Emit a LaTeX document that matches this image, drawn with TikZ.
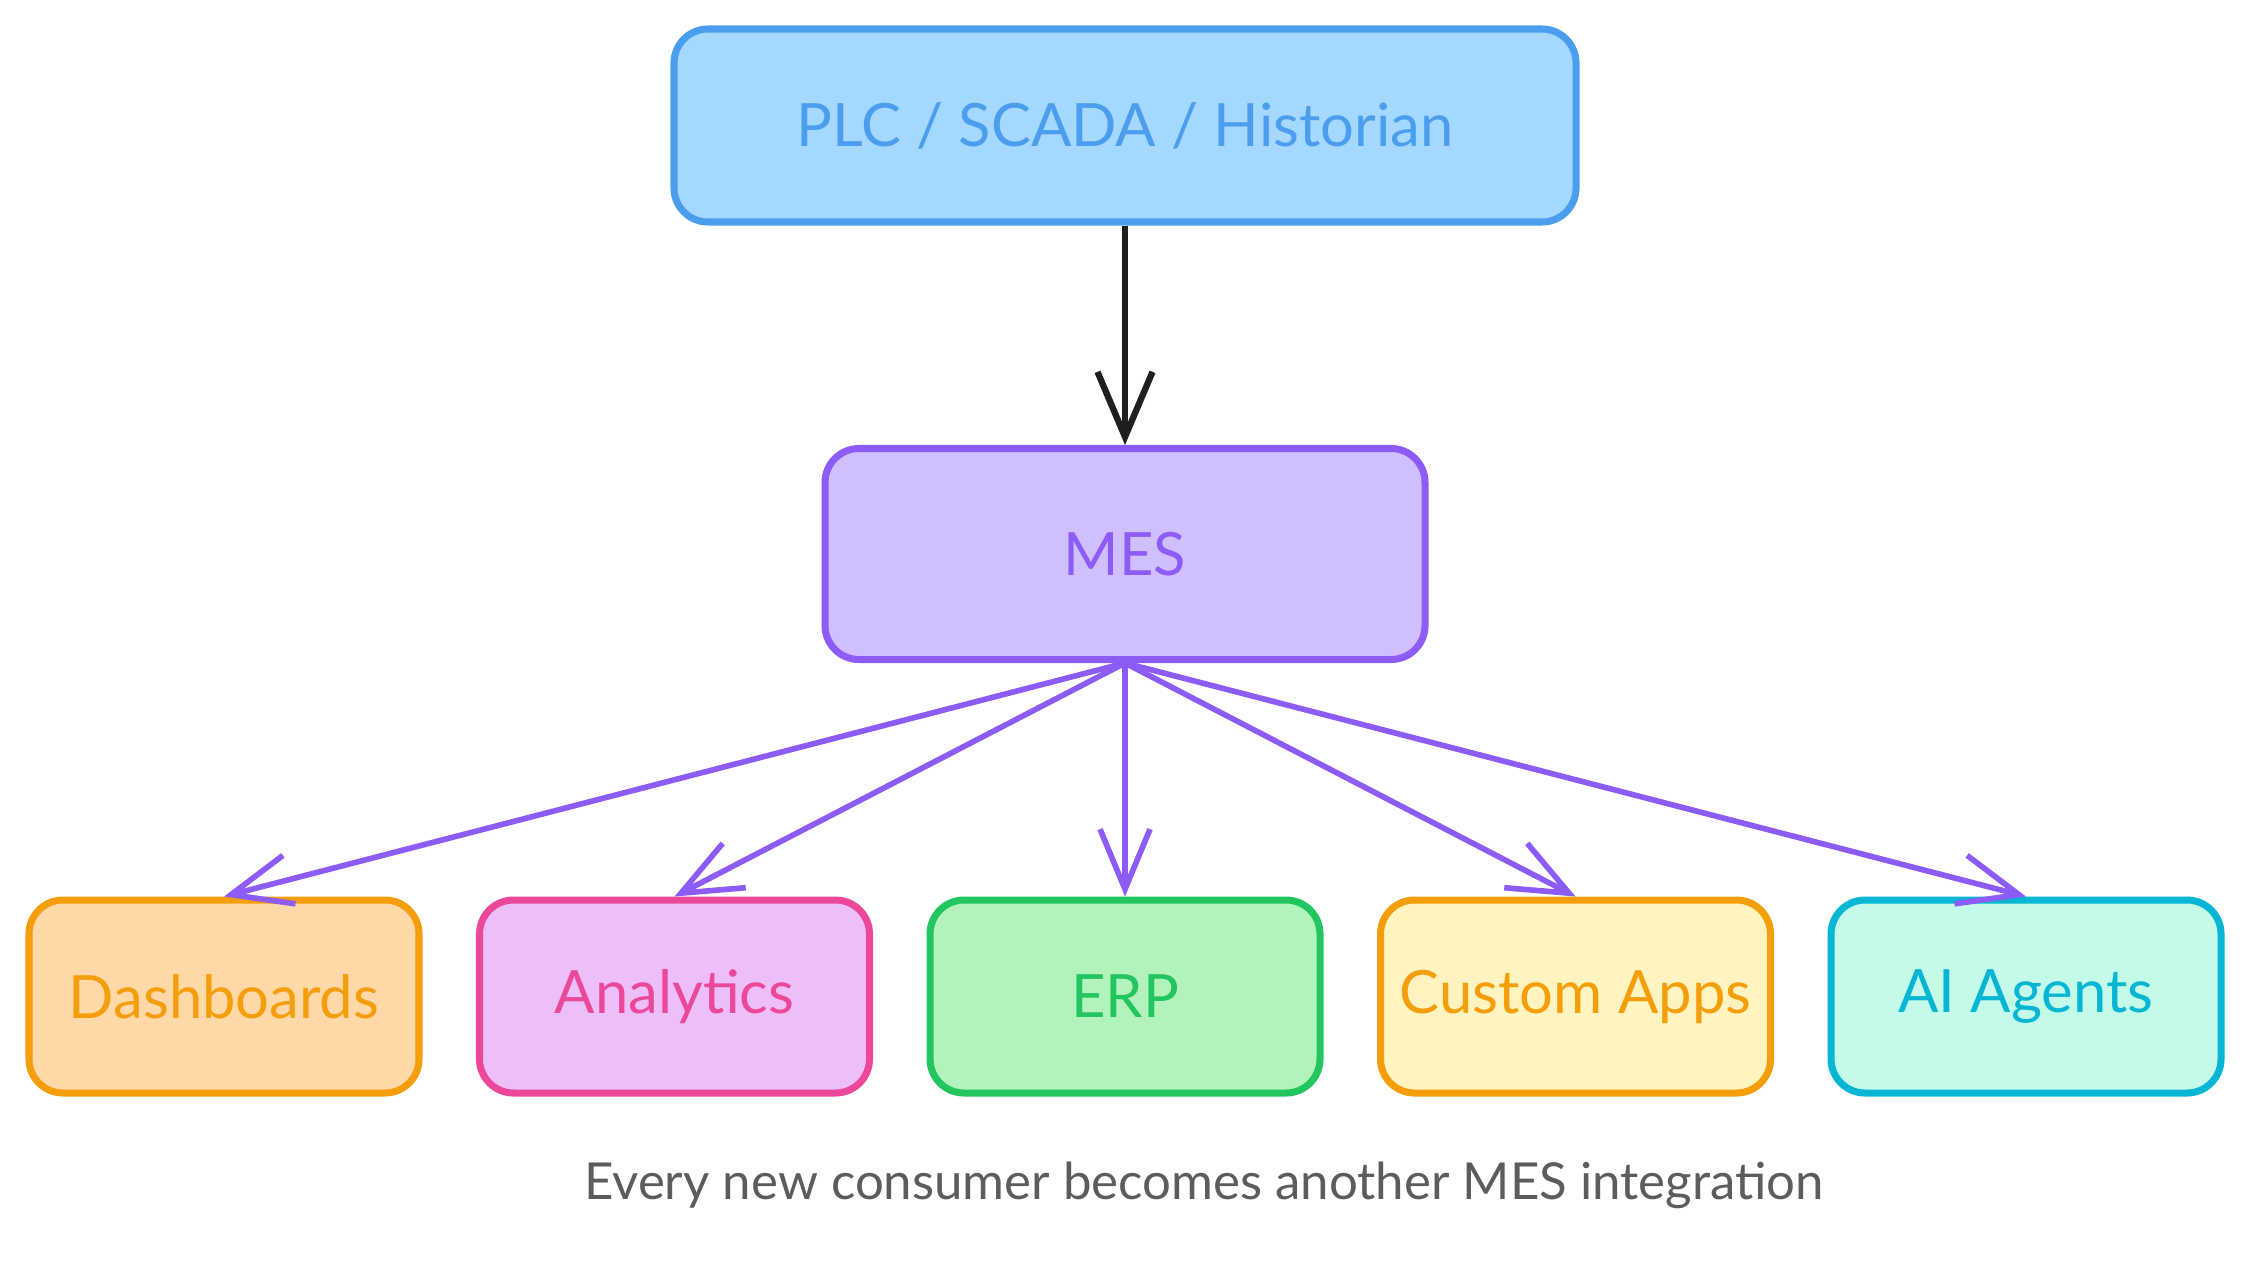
\documentclass[tikz,border=0pt]{standalone}
\usepackage{fontspec}
\setmainfont{Lato}
\usepackage{tikz}
\usetikzlibrary{positioning,arrows.meta}
\definecolor{srcline}{HTML}{4A9EED}
\definecolor{srcfill}{HTML}{A5D8FF}
\definecolor{mesline}{HTML}{8B5CF6}
\definecolor{mesfill}{HTML}{D0BFFF}
\definecolor{orgline}{HTML}{F59E0B}
\definecolor{dashfill}{HTML}{FFD8A8}
\definecolor{pinkline}{HTML}{EC4899}
\definecolor{pinkfill}{HTML}{EEBEFA}
\definecolor{grnline}{HTML}{22C55E}
\definecolor{grnfill}{HTML}{B2F2BB}
\definecolor{appfill}{HTML}{FFF3BF}
\definecolor{cyanline}{HTML}{06B6D4}
\definecolor{cyanfill}{HTML}{C3FAE8}
\definecolor{notegray}{HTML}{5C5C5C}
\tikzstyle{box}=[
        rectangle,
        rounded corners = 3.4mm,
        line width = 2pt,
        font = \fontsize{17}{20}\selectfont
    ]
\tikzstyle{consumer}=[
    box,
    minimum width = 3.9cm,
    minimum height = 1.93cm
]
\tikzstyle{feed}=[
    -{Straight Barb[length=6mm, width=5mm]},
    line width = 1.6pt,
    draw = mesline
]

\begin{document}
\begin{tikzpicture}[node distance={4.505cm}]
        \useasboundingbox (0,0) rectangle (22.5,12.6);
        \node[box, draw = srcline, fill = srcfill, text = srcline, minimum width = 9.02cm, minimum height = 1.93cm] (src) at (11.25,11.345) {PLC / SCADA / Historian};
        \node[box, draw = mesline, fill = mesfill, text = mesline, minimum width = 6cm, minimum height = 2.11cm, node distance = 4.285cm] (mes) [below of = src] {MES};

        \node[consumer, draw = grnline, fill = grnfill, text = grnline, node distance = 4.425cm] (erp) [below of = mes] {ERP};
        \node[consumer, draw = pinkline, fill = pinkfill, text = pinkline] (ana) [left of = erp] {Analytics};
        \node[consumer, draw = orgline, fill = dashfill, text = orgline] (dash) [left of = ana] {Dashboards};
        \node[consumer, draw = orgline, fill = appfill, text = orgline] (apps) [right of = erp] {Custom Apps};
        \node[consumer, draw = cyanline, fill = cyanfill, text = cyanline] (ai) [right of = apps] {AI Agents};

        \node[text = notegray, font = \fontsize{14.5}{17}\selectfont] (note) at (12.04,0.75) {Every new consumer becomes another MES integration};

        \draw[-{Straight Barb[length=6.5mm, width=5.5mm]}, line width = 1.8pt, draw = black!88] (src) -- (mes);
        \draw[feed] (mes.south) -- (dash.north);
        \draw[feed] (mes.south) -- (ana.north);
        \draw[feed] (mes.south) -- (erp.north);
        \draw[feed] (mes.south) -- (apps.north);
        \draw[feed] (mes.south) -- (ai.north);

    \end{tikzpicture}
\end{document}
